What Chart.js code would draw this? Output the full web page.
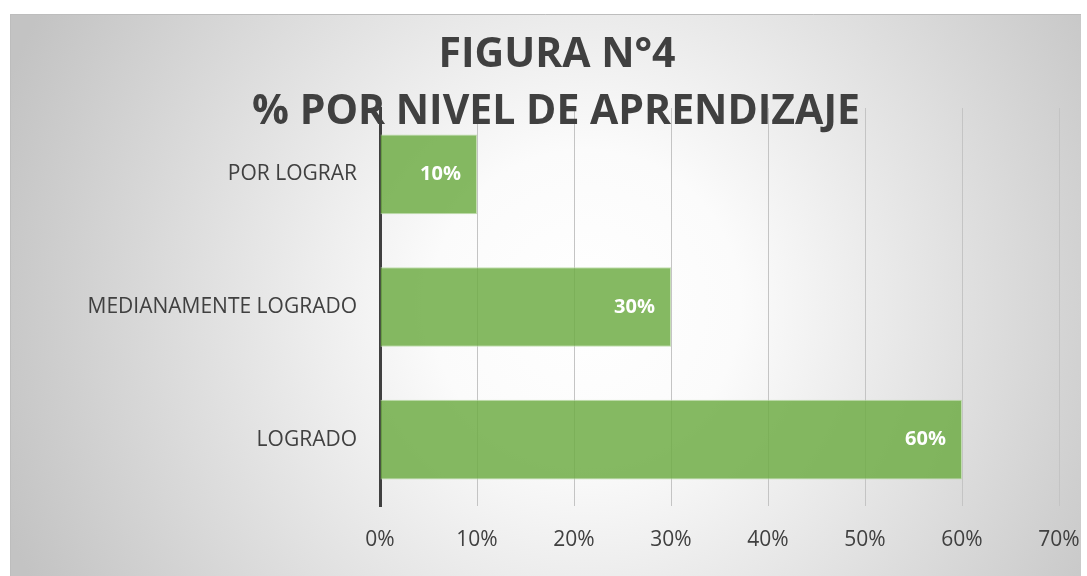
<!DOCTYPE html>
<html>
<head>
<meta charset="utf-8">
<title>FIGURA N°4</title>
<script src="https://cdn.jsdelivr.net/npm/chart.js@4"></script>
<style>
  html, body { margin: 0; padding: 0; background: #fff; }
  #wrap { width: 1087px; height: 576px; position: relative; }
</style>
</head>
<body>
<div id="wrap"><canvas id="nivelChart" width="1087" height="576"></canvas></div>
<script>
// niveles de aprendizaje, de arriba hacia abajo
const niveles = ["POR LOGRAR", "MEDIANAMENTE LOGRADO", "LOGRADO"];
const porcentajes = [10, 30, 60];
const tituloLineas = ["FIGURA N°4", "% POR NIVEL DE APRENDIZAJE"];
const ejeMin = 0;
const ejeMax = 70;
const ejePaso = 10;

const FONT = "'Open Sans', 'Liberation Sans', sans-serif";
const TEXT = "#404040";

// fondo gris con degradado radial y título encima del área del gráfico
const panelPlugin = {
    id: "panel",
    beforeDraw(chart) {
        const ctx = chart.ctx;
        const x0 = 10, y0 = 14, x1 = 1081, y1 = chart.height;
        ctx.save();
        ctx.fillStyle = "#ffffff";
        ctx.fillRect(0, 0, chart.width, chart.height);
        const cx = (x0 + x1) / 2 + 40, cy = (y0 + y1) / 2 + 10;
        const g = ctx.createRadialGradient(cx, cy, 0, cx, cy, 620);
        g.addColorStop(0, "#ffffff");
        g.addColorStop(0.25, "#fbfbfb");
        g.addColorStop(1, "#c3c3c3");
        ctx.fillStyle = g;
        ctx.fillRect(x0, y0, x1 - x0, y1 - y0);
        ctx.strokeStyle = "#bdbdbd";
        ctx.lineWidth = 1;
        ctx.beginPath();
        ctx.moveTo(x0 + 0.5, y1);
        ctx.lineTo(x0 + 0.5, y0 + 0.5);
        ctx.lineTo(x1, y0 + 0.5);
        ctx.stroke();
        ctx.restore();
    },
    beforeDatasetsDraw(chart) {
        const ctx = chart.ctx;
        ctx.save();
        ctx.fillStyle = TEXT;
        ctx.font = "bold 41px " + FONT;
        ctx.textAlign = "center";
        ctx.textBaseline = "middle";
        ctx.fillText(tituloLineas[0], 557, 55);
        ctx.fillText(tituloLineas[1], 556, 112);
        ctx.restore();
    }
};

// etiquetas de valor dentro del extremo de cada barra
const valorPlugin = {
    id: "valores",
    afterDatasetsDraw(chart) {
        const ctx = chart.ctx;
        const meta = chart.getDatasetMeta(0);
        ctx.save();
        ctx.fillStyle = "#ffffff";
        ctx.font = "bold 20px " + FONT;
        ctx.textAlign = "right";
        ctx.textBaseline = "middle";
        meta.data.forEach((bar, i) => {
            ctx.fillText(porcentajes[i] + "%", bar.x - 16, bar.y);
        });
        ctx.restore();
    }
};

new Chart(document.getElementById("nivelChart"), {
    type: "bar",
    data: {
        labels: niveles,
        datasets: [{
            data: porcentajes,
            backgroundColor: "rgba(112, 173, 71, 0.85)",
            borderColor: "rgba(190, 220, 170, 0.9)",
            borderWidth: 1,
            barPercentage: 0.6,
            categoryPercentage: 1
        }]
    },
    options: {
        indexAxis: "y",
        responsive: false,
        animation: false,
        devicePixelRatio: 1,
        layout: { padding: { top: 108, right: 28, bottom: 0, left: 0 } },
        plugins: {
            legend: { display: false },
            title: { display: false },
            tooltip: { enabled: false }
        },
        scales: {
            x: {
                min: ejeMin,
                max: ejeMax,
                ticks: {
                    stepSize: ejePaso,
                    padding: 21,
                    color: TEXT,
                    font: { family: FONT, size: 21 },
                    callback: v => v + "%"
                },
                grid: { color: "#c4c4c4", lineWidth: 1, drawTicks: false },
                border: { display: false },
                afterFit(scale) {
                    scale.height = 70;
                    scale.paddingLeft = 0;
                    scale.paddingRight = 0;
                }
            },
            y: {
                ticks: {
                    padding: 23,
                    color: TEXT,
                    font: { family: FONT, size: 21 }
                },
                grid: { display: false, drawTicks: false },
                border: { display: true, color: "#404040", width: 3 },
                afterFit(scale) { scale.width = 380; }
            }
        }
    },
    plugins: [panelPlugin, valorPlugin]
});
</script>
</body>
</html>
